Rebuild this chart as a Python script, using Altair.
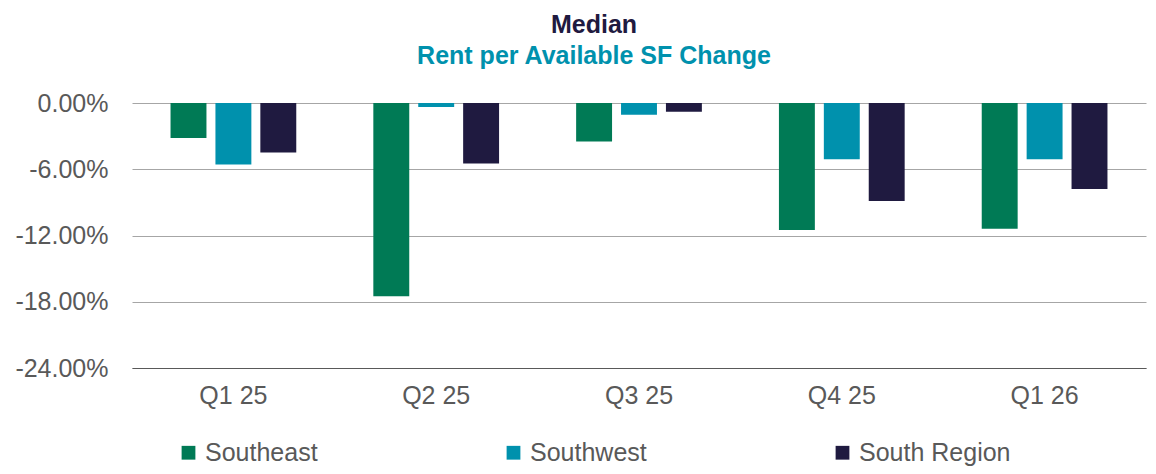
import altair as alt
import pandas as pd

quarters = ["Q1 25", "Q2 25", "Q3 25", "Q4 25", "Q1 26"]
series = ["Southeast", "Southwest", "South Region"]
southeast = [-0.0318, -0.175, -0.0348, -0.115, -0.1139]
southwest = [-0.0557, -0.0036, -0.0106, -0.0509, -0.0509]
south_region = [-0.0448, -0.0548, -0.0079, -0.0888, -0.0778]
y_ticks = [0, -0.06, -0.12, -0.18, -0.24]
colors = ["#007A55", "#0091AD", "#1F1A40"]

rows = []
for name, vals in zip(series, [southeast, southwest, south_region]):
    for q, v in zip(quarters, vals):
        rows.append({"quarter": q, "series": name, "value": v})
df = pd.DataFrame(rows)

FONT = "Liberation Sans"

chart = alt.Chart(df).mark_bar().encode(
    x=alt.X("quarter:N", sort=quarters,
            scale=alt.Scale(paddingInner=0.38, paddingOuter=0.19),
            axis=alt.Axis(title=None, labelAngle=0, ticks=False, domain=True,
                          domainColor="#595959", domainWidth=1,
                          labelPadding=15, labelFontSize=25, labelColor="#595959",
                          labelFont=FONT, grid=False)),
    xOffset=alt.XOffset("series:N", sort=series,
                        scale=alt.Scale(paddingInner=0.2, paddingOuter=0)),
    y=alt.Y("value:Q", scale=alt.Scale(domain=[-0.24, 0], nice=False),
            axis=alt.Axis(title=None, values=y_ticks, format=".2%", grid=True,
                          labelExpr="replace(format(datum.value, '.2%'), '\u2212', '-')",
                          gridColor="#A6A6A6", gridWidth=1, domain=False, ticks=False,
                          labelPadding=24, labelFontSize=25, labelColor="#595959",
                          labelFont=FONT)),
    color=alt.Color("series:N", sort=series,
                    scale=alt.Scale(domain=series, range=colors),
                    legend=alt.Legend(title=None, orient="none", legendX=44, legendY=337,
                                      direction="horizontal", symbolType="square",
                                      symbolSize=190, symbolStrokeWidth=0,
                                      labelFontSize=25, labelColor="#595959",
                                      labelFont=FONT, labelOffset=4,
                                      columnPadding=183, padding=0)),
).properties(
    width=1014,
    height=265,
    title=alt.TitleParams(
        text="Median",
        subtitle="Rent per Available SF Change",
        anchor="middle",
        frame="group",
        dx=-45,
        offset=22,
        font=FONT,
        fontSize=25,
        fontWeight="bold",
        color="#1F1A40",
        subtitleFont=FONT,
        subtitleFontSize=25,
        subtitleFontWeight="bold",
        subtitleColor="#0091AD",
        subtitlePadding=6,
    ),
    autosize=alt.AutoSizeParams(type="none"),
    padding={"left": 124, "top": 95, "right": 2, "bottom": 98},
).configure_view(stroke=None)

chart.save("out.html", embed_options={"renderer": "svg", "actions": False})
